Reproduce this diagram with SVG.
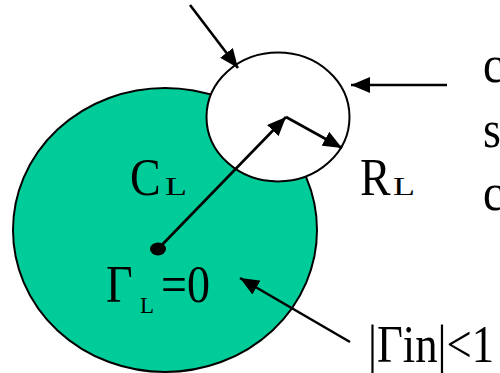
<svg xmlns="http://www.w3.org/2000/svg" width="500" height="373" viewBox="0 0 500 373">
<style>
.t{font-family:"Liberation Serif","Times New Roman",serif;fill:#000}
.big{font-size:46px}
.sub{font-size:26px}
.ln{stroke:#000;stroke-width:2.6;fill:none}
</style>
<defs>
<marker id="ah" markerUnits="userSpaceOnUse" markerWidth="20" markerHeight="16" refX="19" refY="8" orient="auto" viewBox="0 0 20 16">
<path d="M0,0 L19,8 L0,16 z" fill="#000"/>
</marker>
</defs>
<g id="region-stable">
<ellipse cx="165" cy="230" rx="152" ry="142" fill="#00CC99" stroke="#000" stroke-width="2"/>
</g>
<g id="stability-circle">
<ellipse cx="278" cy="117" rx="71.5" ry="64.5" fill="#fff" stroke="#000" stroke-width="2"/>
</g>
<g id="origin">
<ellipse cx="158" cy="249" rx="8" ry="6.5" fill="#000"/>
</g>
<g id="connectors">
<line class="ln" x1="158" y1="249" x2="286" y2="117" marker-end="url(#ah)"/>
<line class="ln" x1="286" y1="117" x2="342" y2="148" marker-end="url(#ah)"/>
<line class="ln" x1="190" y1="5" x2="238" y2="68" marker-end="url(#ah)"/>
<line class="ln" x1="447" y1="85" x2="351" y2="85" marker-end="url(#ah)"/>
<line class="ln" x1="350" y1="342" x2="240" y2="278" marker-end="url(#ah)"/>
</g>
<g id="labels">
<text class="t big" transform="translate(130,195) scale(1,1.15)">C</text>
<text class="t sub" x="165" y="195" textLength="22" lengthAdjust="spacingAndGlyphs">L</text>
<text class="t big" transform="translate(360,195) scale(1,1.15)">R</text>
<text class="t sub" x="393" y="195" textLength="22" lengthAdjust="spacingAndGlyphs">L</text>
<text class="t big" transform="translate(106,302) scale(1,1.15)">Γ</text>
<text class="t" style="font-size:23px" x="140" y="313">L</text>
<text class="t big" transform="translate(161,302) scale(1,1.15)">=0</text>
<text class="t big" transform="translate(368,362) scale(1,1.15)" textLength="126" lengthAdjust="spacingAndGlyphs">|Γin|&lt;1</text>
<text class="t big" transform="translate(483,82) scale(1,1.15)">c</text>
<text class="t big" transform="translate(483,147) scale(1,1.15)">s</text>
<text class="t big" transform="translate(483,210) scale(1,1.15)">c</text>
</g>
</svg>
